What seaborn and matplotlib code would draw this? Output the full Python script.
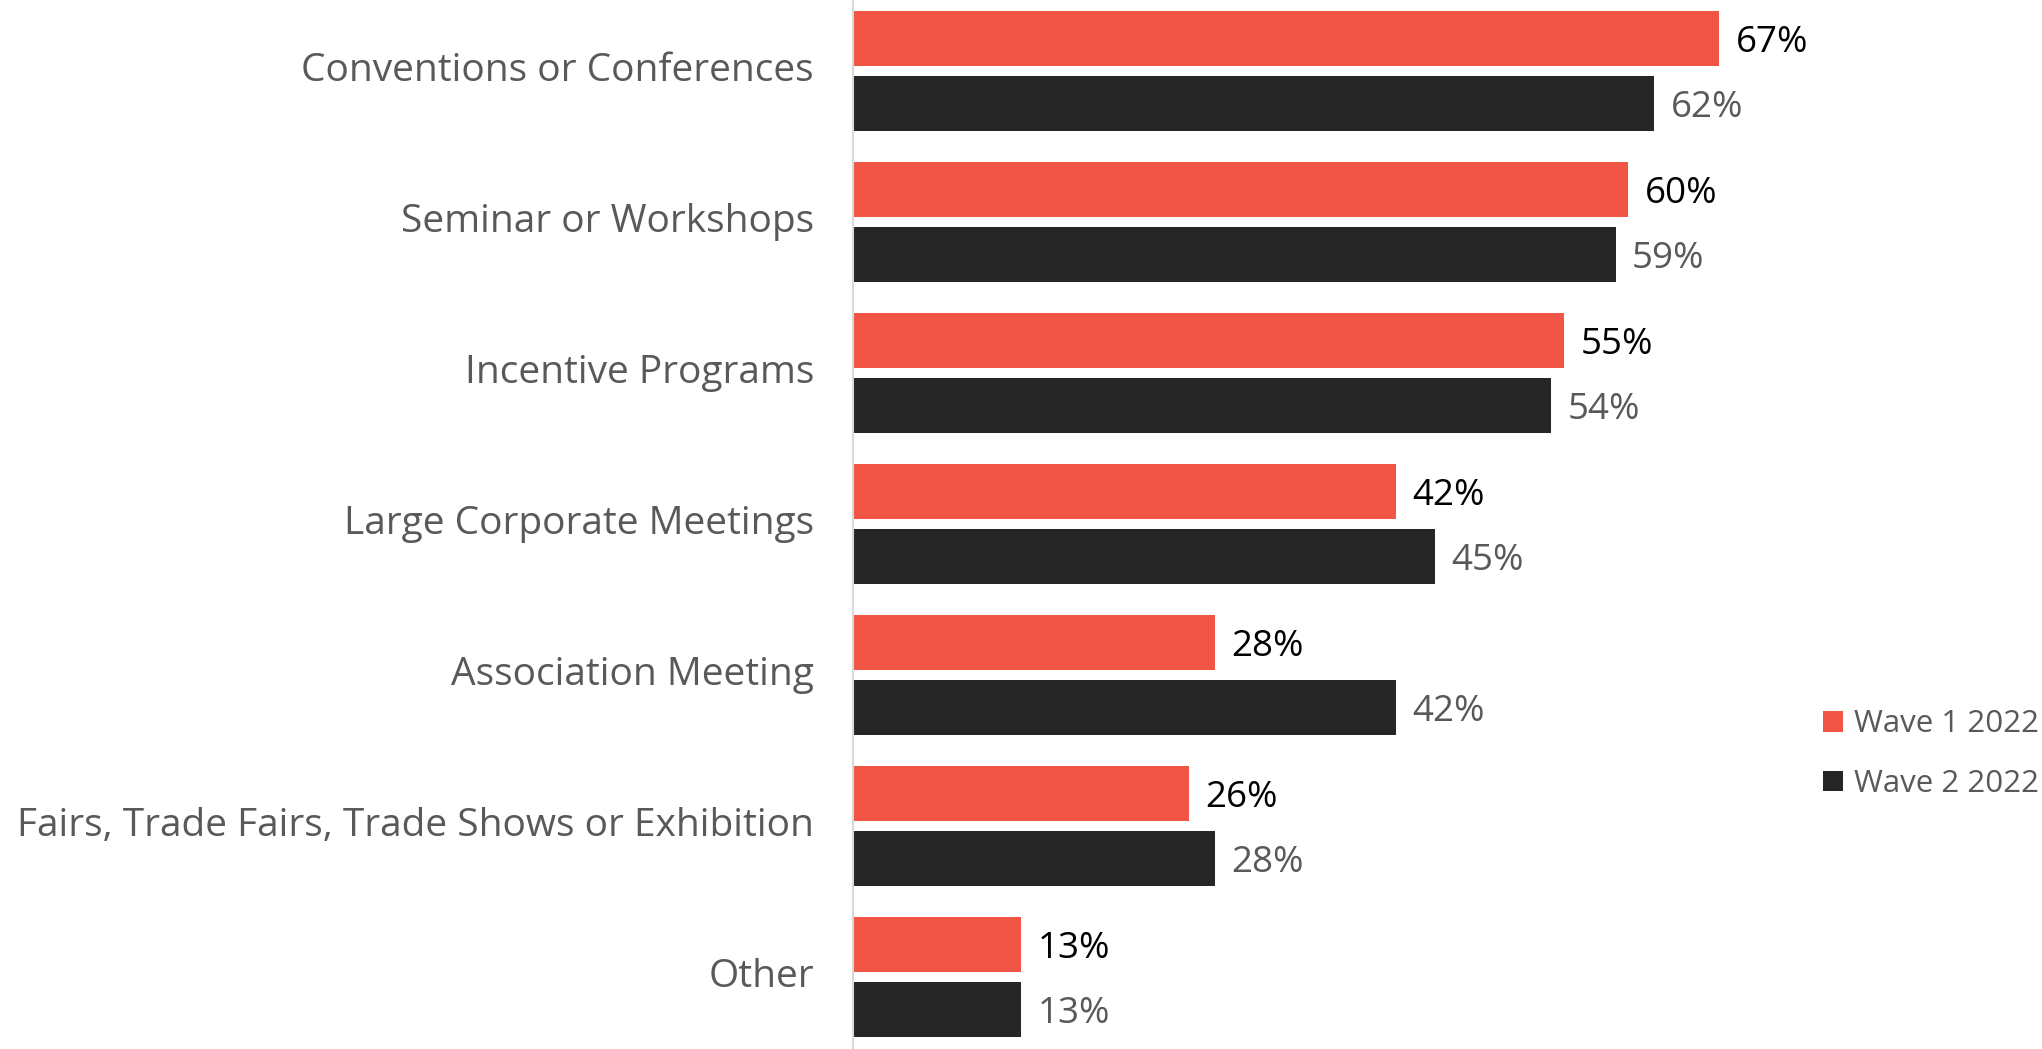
import pandas as pd
import matplotlib
matplotlib.use('Agg')
import matplotlib.pyplot as plt
import matplotlib.transforms as mtransforms
import seaborn as sns

# 数据
categories = ['Conventions or Conferences', 'Seminar or Workshops', 'Incentive Programs',
              'Large Corporate Meetings', 'Association Meeting',
              'Fairs, Trade Fairs, Trade Shows or Exhibition', 'Other']
wave1 = [67, 60, 55, 42, 28, 26, 13]
wave2 = [62, 59, 54, 45, 42, 28, 13]
waves = ['Wave 1 2022', 'Wave 2 2022']

sns.set_style('white')
plt.rcParams['font.family'] = ['Open Sans', 'DejaVu Sans']

df = pd.DataFrame({'cat': categories * 2,
                   'val': wave1 + wave2,
                   'wave': [waves[0]] * len(categories) + [waves[1]] * len(categories)})

fig = plt.figure(figsize=(20.42, 10.49), dpi=100)
ax = fig.add_axes([853 / 2042, 0, 1 - 853 / 2042, 1])

sns.barplot(data=df, x='val', y='cat', hue='wave', orient='h',
            palette=['#F05545', '#262626'], saturation=1,
            width=0.86, gap=0.14, linewidth=0, ax=ax)

ax.set_xlim(0, 92)
ax.set_ylim(6.477, -0.470)
ax.set_xlabel('')
ax.set_ylabel('')
ax.set_xticks([])
ax.tick_params(axis='y', length=0, pad=28, labelsize=28, labelcolor='#595959')
# 标签略微上移
off = mtransforms.ScaledTranslation(0, 4 / 100, fig.dpi_scale_trans)
for t in ax.get_yticklabels():
    t.set_transform(t.get_transform() + off)

for s in ['top', 'right', 'bottom']:
    ax.spines[s].set_visible(False)
ax.spines['left'].set_color('#d9d9d9')
ax.spines['left'].set_linewidth(1.5)

lab_colors = ['#000000', '#595959']
for c, col in zip(ax.containers, lab_colors):
    txts = ax.bar_label(c, fmt='%d%%', padding=12, fontsize=26.5, color=col)
    for t in txts:
        t.xyann = (12, -3)

ax.legend(loc='center left', bbox_to_anchor=(1823 / 2042, 0.281),
          bbox_transform=fig.transFigure, frameon=False,
          fontsize=22.5, labelcolor='#595959',
          handlelength=0.63, handleheight=0.63, handletextpad=0.35,
          labelspacing=0.95, borderpad=0, borderaxespad=0)

plt.savefig('out.png', dpi=100)
